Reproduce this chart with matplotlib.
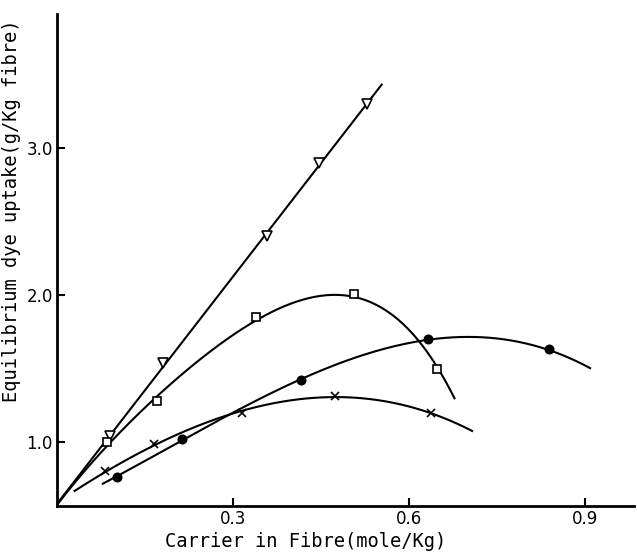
import numpy as np
import matplotlib
matplotlib.use("Agg")
import matplotlib.pyplot as plt

# Values
# open triangles (straight line through origin)
x_tri = [0.090, 0.180, 0.357, 0.446, 0.528]
y_tri = [1.04, 1.54, 2.40, 2.90, 3.30]
# open squares
x_sq = [0.085, 0.170, 0.339, 0.506, 0.647]
y_sq = [1.00, 1.28, 1.85, 2.01, 1.50]
# filled circles
x_dot = [0.102, 0.213, 0.416, 0.632, 0.838]
y_dot = [0.76, 1.02, 1.42, 1.70, 1.63]
# crosses
x_cross = [0.082, 0.165, 0.315, 0.474, 0.637]
y_cross = [0.80, 0.99, 1.20, 1.31, 1.20]

# points (first = start, last = end)
guide_tri = [(0.0, 0.565), (0.553, 3.42)]
guide_sq = [(0.0, 0.565), (0.426, 1.95), (0.482, 2.00), (0.614, 1.69), (0.677, 1.31)]
guide_dot = [(0.078, 0.72), (0.482, 1.54), (0.687, 1.71), (0.908, 1.50)]
guide_cross = [(0.030, 0.66), (0.244, 1.12), (0.397, 1.27), (0.539, 1.30), (0.707, 1.07)]

x_ticks = [0.3, 0.6, 0.9]
y_ticks = [1.0, 2.0, 3.0]


def fit_curve(xs, ys, guide, deg):
    px = list(xs) + [g[0] for g in guide]
    py = list(ys) + [g[1] for g in guide]
    coef = np.polyfit(px, py, deg)
    xx = np.linspace(guide[0][0], guide[-1][0], 200)
    return xx, np.polyval(coef, xx)


fig = plt.figure(figsize=(6.37, 5.52), dpi=100)
ax = fig.add_axes([0.0895, 0.0833, 0.906, 0.891])

for xs, ys, guide, deg, mk, fill, ms in [
    (x_tri, y_tri, guide_tri, 1, "v", "white", 7),
    (x_sq, y_sq, guide_sq, 4, "s", "white", 6),
    (x_dot, y_dot, guide_dot, 3, "o", "black", 6),
    (x_cross, y_cross, guide_cross, 3, "x", "black", 6),
]:
    xx, yy = fit_curve(xs, ys, guide, deg)
    ax.plot(xx, yy, color="black", lw=1.5)
    ax.plot(xs, ys, ls="none", marker=mk, ms=ms, mfc=fill, mec="black", mew=1.2)

ax.set_xlim(0, 0.983)
ax.set_ylim(0.565, 3.91)
ax.set_xticks(x_ticks)
ax.set_yticks(y_ticks)
ax.set_xticklabels(["0.3", "0.6", "0.9"])
ax.set_yticklabels(["1.0", "2.0", "3.0"])
ax.tick_params(direction="in", length=6, width=1.5, labelsize=12, pad=3)
ax.spines["top"].set_visible(False)
ax.spines["right"].set_visible(False)
ax.spines["left"].set_linewidth(2)
ax.spines["bottom"].set_linewidth(2)

ax.set_xlabel("Carrier in Fibre(mole/Kg)", fontsize=13.5, family="DejaVu Sans Mono")
ax.set_ylabel("Equilibrium dye uptake(g/Kg fibre)", fontsize=13.5, family="DejaVu Sans Mono")
ax.xaxis.set_label_coords(0.43, -0.053)
ax.yaxis.set_label_coords(-0.062, 0.60)

fig.savefig("out.png", dpi=100)
